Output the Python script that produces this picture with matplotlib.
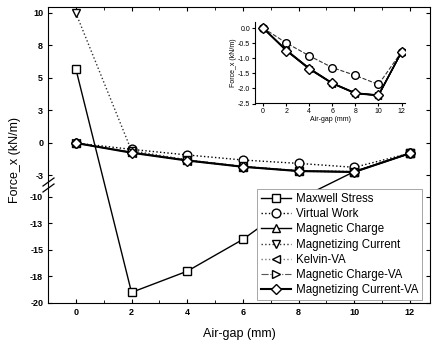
import numpy as np
import matplotlib
matplotlib.use("Agg")
import matplotlib.pyplot as plt

plt.rcParams['font.family'] = ['Liberation Sans', 'DejaVu Sans']

gap = [0, 2, 4, 6, 8, 10, 12]
maxwell = [5.7, -19.0, -17.0, -14.0, -10.2, -2.2, -0.8]
virtual_work = [0.0, -0.49, -0.92, -1.31, -1.57, -1.87, -0.79]
mag_charge = [0.0, -0.72, -1.33, -1.82, -2.15, -2.22, -0.79]
mag_current = [10.0, -0.6, -1.3, -1.8, -2.12, -2.2, -0.78]
kelvin_va = [0.0, -0.74, -1.36, -1.84, -2.17, -2.24, -0.8]
mag_charge_va = [0.0, -0.73, -1.34, -1.83, -2.16, -2.23, -0.79]
mag_current_va = [0.0, -0.75, -1.35, -1.83, -2.16, -2.23, -0.79]

series = [
    ("Maxwell Stress", maxwell, 's', '-', 'black', 1.0),
    ("Virtual Work", virtual_work, 'o', ':', 'black', 1.0),
    ("Magnetic Charge", mag_charge, '^', '-', 'black', 1.0),
    ("Magnetizing Current", mag_current, 'v', ':', '#333333', 1.0),
    ("Kelvin-VA", kelvin_va, '<', ':', '#777777', 1.0),
    ("Magnetic Charge-VA", mag_charge_va, '>', '-.', '#555555', 0.8),
    ("Magnetizing Current-VA", mag_current_va, 'D', '-', 'black', 1.5),
]

y_ticks = [10, 7.5, 5, 2.5, 0, -2.5, -10, -12.5, -15, -17.5, -20]
y_labels = ["10", "8", "5", "3", "0", "-3", "-10", "-13", "-15", "-18", "-20"]
x_ticks = [0, 2, 4, 6, 8, 10, 12]

# broken y axis: lower part -20..-9.15, tiny gap, upper part -3.23..10.46
LO, LO_TOP, UP_BOT, UP = -20.0, -9.15, -3.23, 10.46
K_LO, K_UP = 10.6, 13.0
S1 = (LO_TOP - LO) * K_LO
S2 = S1 + 3.0
K_GAP = 3.0 / (UP_BOT - LO_TOP)


def fwd(y):
    y = np.asarray(y, dtype=float)
    return np.where(y <= LO_TOP, (y - LO) * K_LO,
                    np.where(y <= UP_BOT, S1 + (y - LO_TOP) * K_GAP,
                             S2 + (y - UP_BOT) * K_UP))


def inv(s):
    s = np.asarray(s, dtype=float)
    return np.where(s <= S1, LO + s / K_LO,
                    np.where(s <= S2, LO_TOP + (s - S1) / K_GAP,
                             UP_BOT + (s - S2) / K_UP))


W, H = 436, 342
fig = plt.figure(figsize=(W / 100, H / 100), dpi=100)


def frac(x0, y0, x1, y1):
    return [x0 / W, 1 - y1 / H, (x1 - x0) / W, (y1 - y0) / H]


ax = fig.add_axes(frac(48, 7, 430, 303))
ax.set_yscale('function', functions=(fwd, inv))

handles = []
for name, vals, mk, ls, col, lw in series:
    ms = 5.5 if mk == 'D' else 6.3
    ln, = ax.plot(gap, vals, marker=mk, linestyle=ls, color=col, lw=lw,
                  markersize=ms, markerfacecolor='white',
                  markeredgecolor='black', markeredgewidth=1.0, label=name)
    handles.append(ln)

ax.set_xlim(-1.0, 12.72)
ax.set_ylim(LO, UP)
ax.set_yticks(y_ticks)
ax.set_yticklabels(y_labels, fontweight='bold')
ax.yaxis.set_minor_locator(matplotlib.ticker.NullLocator())
ax.set_xticks(x_ticks)
ax.set_xticklabels([str(t) for t in x_ticks], fontweight='bold')
ax.set_xticks(range(-1, 13), minor=True)
ax.tick_params(direction='in', labelsize=6.5, length=3, width=0.8,
               top=True, right=True)
ax.tick_params(which='minor', direction='in', length=2, top=True)
ax.set_xlabel("Air-gap (mm)", fontsize=9, labelpad=8)

# break marks on the left spine
for dy in (-3, 3):
    fig.add_artist(plt.Line2D([43 / W, 54 / W],
                              [1 - (189 + dy) / H, 1 - (181 + dy) / H],
                              color='black', lw=0.9))

fig.text(15 / W, 1 - 160 / H, "Force_x (kN/m)", rotation=90, fontsize=9,
         ha='center', va='center')

leg = fig.legend(handles=handles, loc='upper left',
                 bbox_to_anchor=(257 / W, 1 - 189 / H), fontsize=8.3,
                 frameon=True, fancybox=False, edgecolor='#999999',
                 framealpha=1, handlelength=2.6, labelspacing=0.28,
                 borderpad=0.35, handletextpad=0.4, borderaxespad=0)
leg.get_frame().set_linewidth(0.6)

# inset
ax_in = fig.add_axes(frac(255, 22, 405, 103.5))
ax_in.plot(gap, virtual_work, marker='o', linestyle='--', color='#333333',
           lw=0.8, markersize=5.5, markerfacecolor='white',
           markeredgecolor='black')
for vals, mk in ((mag_charge, '^'), (kelvin_va, '<'), (mag_charge_va, '>'),
                 (mag_current_va, 'D')):
    ax_in.plot(gap, vals, marker=mk, linestyle='-', color='black', lw=1.0,
               markersize=5, markerfacecolor='white',
               markeredgecolor='black')
ax_in.set_xlim(-0.7, 12.3)
ax_in.set_ylim(-2.5, 0.2)
ax_in.set_xticks(x_ticks)
ax_in.set_yticks([0.0, -0.5, -1.0, -1.5, -2.0, -2.5])
ax_in.set_yticklabels(["0.0", "-0.5", "-1.0", "-1.5", "-2.0", "-2.5"])
ax_in.tick_params(labelsize=5, length=2, direction='out', pad=1.5)
ax_in.spines['top'].set_visible(False)
ax_in.spines['right'].set_visible(False)
ax_in.set_xlabel("Air-gap (mm)", fontsize=5, labelpad=0.5)
ax_in.set_ylabel("Force_x (kN/m)", fontsize=5, labelpad=1)

fig.savefig("out.png", dpi=100)
